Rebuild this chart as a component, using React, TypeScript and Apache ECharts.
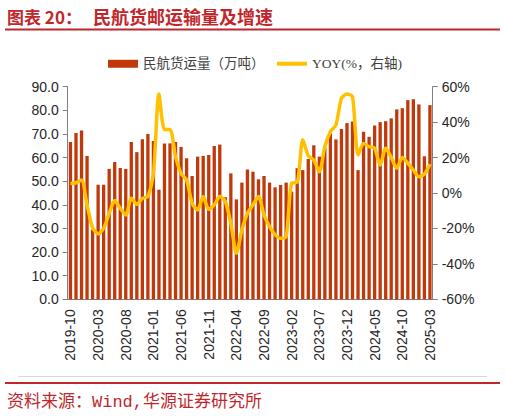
import React, { useEffect, useRef } from 'react';
import * as echarts from 'echarts';

const months = [
  '2019-10', '2019-11', '2019-12',
  '2020-01', '2020-02', '2020-03', '2020-04', '2020-05', '2020-06', '2020-07', '2020-08', '2020-09', '2020-10', '2020-11', '2020-12',
  '2021-01', '2021-02', '2021-03', '2021-04', '2021-05', '2021-06', '2021-07', '2021-08', '2021-09', '2021-10', '2021-11', '2021-12',
  '2022-01', '2022-02', '2022-03', '2022-04', '2022-05', '2022-06', '2022-07', '2022-08', '2022-09', '2022-10', '2022-11', '2022-12',
  '2023-01', '2023-02', '2023-03', '2023-04', '2023-05', '2023-06', '2023-07', '2023-08', '2023-09', '2023-10', '2023-11', '2023-12',
  '2024-01', '2024-02', '2024-03', '2024-04', '2024-05', '2024-06', '2024-07', '2024-08', '2024-09', '2024-10', '2024-11', '2024-12',
  '2025-01', '2025-02', '2025-03',
];

// 民航货运量（万吨）
const cargo = [
  66.6, 70.4, 71.5,
  60.7, 29.5, 48.5, 48.5, 55.2, 58.1, 55.6, 55.2, 66.6, 62.3, 67.8, 70.0,
  67.0, 46.4, 66.0, 66.0, 66.6, 64.5, 59.7, 52.2, 60.4, 60.7, 61.1, 64.9,
  65.5, 43.2, 53.3, 42.3, 49.4, 55.0, 54.0, 50.8, 52.2, 49.4, 47.4, 48.4,
  49.4, 45.6, 55.5, 54.7, 59.4, 65.2, 60.4, 64.2, 70.2, 67.7, 72.1, 74.6,
  75.3, 54.7, 70.9, 68.8, 73.6, 75.0, 75.4, 76.6, 80.4, 80.9, 84.3, 84.7,
  82.5, 60.6, 82.2,
];

// YOY（%，右轴）
const yoy = [
  5.4, 5.8, 7.3,
  -6.7, -19.5, -23.1, -19.9, -11.5, -4.3, -8.7, -12.4, -3.0, -6.4, -3.0, -2.0,
  11.0, 55.9, 35.9, 35.9, 20.5, 11.0, 7.3, -5.8, -9.6, -2.0, -9.2, -6.7,
  -2.0, -4.8, -17.1, -34.0, -20.9, -11.4, -6.7, -2.0, -12.4, -19.0, -23.5, -25.6,
  -24.7, 5.6, 6.0, 30.0, 21.0, 18.6, 12.0, 26.2, 34.6, 38.4, 53.4, 55.9,
  54.4, 21.5, 28.0, 26.2, 25.2, 15.8, 25.2, 20.1, 13.9, 20.1, 16.8, 13.0,
  9.2, 10.6, 16.4,
];

const barName = '民航货运量（万吨）';
const lineName = 'YOY(%，右轴)';
const titleHead = '图表 20：';
const titleBody = '民航货邮运输量及增速';
const sourceText = '资料来源：Wind,华源证券研究所';

const RED = '#C0272D';
const AXIS = '#808080';
const LABEL = '#262626';

export default function App() {
  const ref = useRef<HTMLDivElement>(null);

  useEffect(() => {
    if (!ref.current) return;
    const chart = echarts.init(ref.current, null, { renderer: 'svg' });
    const legendText = {
      fontSize: 13.5,
      fontFamily: '"Liberation Serif", "Noto Sans CJK SC"',
      color: '#404040',
    };
    chart.setOption({
      animation: false,
      backgroundColor: '#ffffff',
      grid: { left: 67.7, right: 73.3, top: 86.7, bottom: 116.7, containLabel: false },
      legend: [
        {
          data: [{ name: barName, icon: 'rect' }],
          left: 103,
          top: 52,
          itemWidth: 30,
          itemHeight: 8,
          textStyle: legendText,
        },
        {
          data: [{ name: lineName, icon: 'rect', itemStyle: { color: '#FFC000' } }],
          left: 272,
          top: 52,
          itemWidth: 30,
          itemHeight: 4,
          textStyle: legendText,
        },
      ],
      xAxis: {
        type: 'category',
        data: months,
        boundaryGap: true,
        axisLine: { lineStyle: { color: AXIS, width: 1 } },
        axisTick: { interval: 4, length: 4, lineStyle: { color: AXIS } },
        axisLabel: {
          interval: 4,
          rotate: 90,
          margin: 10,
          fontSize: 14,
          color: LABEL,
          fontFamily: '"Liberation Sans", Arial, sans-serif',
        },
        splitLine: { show: false },
      },
      yAxis: [
        {
          type: 'value',
          position: 'left',
          min: 0,
          max: 90,
          interval: 10,
          axisLine: { show: true, lineStyle: { color: AXIS } },
          axisTick: { show: true, length: 5, lineStyle: { color: AXIS } },
          splitLine: { show: false },
          axisLabel: {
            margin: 9,
            fontSize: 14,
            color: LABEL,
            fontFamily: '"Liberation Sans", Arial, sans-serif',
            formatter: (v: number) => v.toFixed(1),
          },
        },
        {
          type: 'value',
          position: 'right',
          min: -60,
          max: 60,
          interval: 20,
          axisLine: { show: true, lineStyle: { color: AXIS } },
          axisTick: { show: true, length: 5, lineStyle: { color: AXIS } },
          splitLine: { show: false },
          axisLabel: {
            margin: 9,
            fontSize: 14,
            color: LABEL,
            fontFamily: '"Liberation Sans", Arial, sans-serif',
            formatter: (v: number) => `${v}%`,
          },
        },
      ],
      series: [
        {
          name: barName,
          type: 'bar',
          data: cargo,
          barWidth: 3.3,
          itemStyle: { color: '#C0390B' },
          z: 2,
        },
        {
          name: lineName,
          type: 'line',
          yAxisIndex: 1,
          data: yoy,
          symbol: 'none',
          smooth: 0.25,
          lineStyle: { color: '#FFC000', width: 3.5 },
          itemStyle: { color: '#FFC000' },
          z: 3,
        },
      ],
      graphic: [
        {
          type: 'text',
          x: 7,
          y: 16,
          style: {
            text: titleHead,
            fontSize: 17,
            fontWeight: 'bold',
            fontFamily: '"Noto Sans CJK SC", sans-serif',
            fill: RED,
            verticalAlign: 'middle',
          },
        },
        {
          type: 'text',
          x: 93,
          y: 16,
          style: {
            text: titleBody,
            fontSize: 18,
            fontWeight: 'bold',
            fontFamily: '"Noto Sans CJK SC", sans-serif',
            fill: RED,
            verticalAlign: 'middle',
          },
        },
        {
          type: 'rect',
          shape: { x: 5, y: 28.5, width: 495, height: 2 },
          style: { fill: RED },
        },
        {
          type: 'line',
          shape: { x1: 18, y1: 376.5, x2: 487, y2: 376.5 },
          style: { stroke: '#D9D9D9', lineWidth: 1 },
        },
        {
          type: 'rect',
          shape: { x: 5, y: 382, width: 495, height: 2 },
          style: { fill: RED },
        },
        {
          type: 'text',
          x: 7,
          y: 402,
          style: {
            text: sourceText,
            fontSize: 17,
            fontFamily: '"Liberation Mono", "Noto Sans CJK SC", monospace',
            fill: RED,
            verticalAlign: 'middle',
          },
        },
      ],
    });
    return () => chart.dispose();
  }, []);

  return (
    <div
      ref={ref}
      style={{ position: 'absolute', left: 0, top: 0, width: 506, height: 416 }}
    />
  );
}
